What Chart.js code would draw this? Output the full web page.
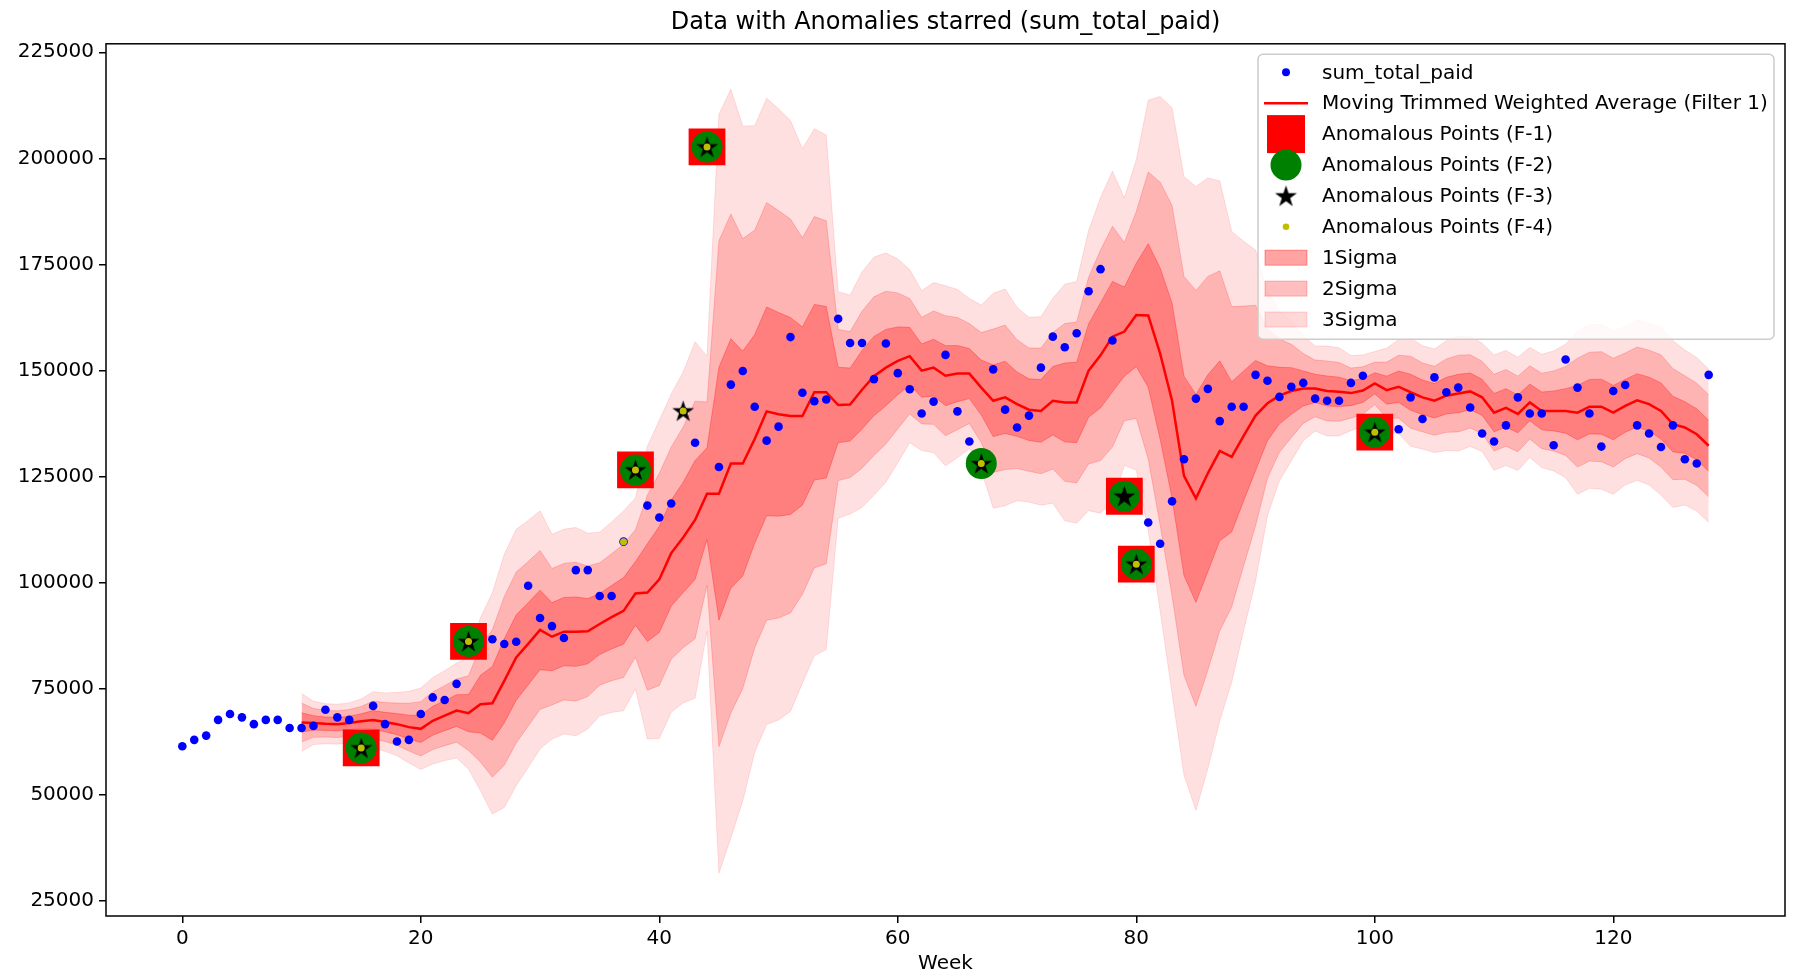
<!DOCTYPE html>
<html>
<head>
<meta charset="utf-8">
<script src="https://cdn.jsdelivr.net/npm/chart.js@4.4.1/dist/chart.umd.min.js"></script>
<style>
  html, body { margin: 0; padding: 0; background: #ffffff; }
  #wrap { width: 1794px; height: 976px; }
</style>
</head>
<body>
<div id="wrap"><canvas id="anomalyChart" width="1794" height="976"></canvas></div>
<script>
// weekly sum_total_paid, week 0 .. 128
const sumTotalPaid = [
  61500, 63000, 64000, 67700, 69100, 68300, 66700, 67700, 67700, 65800,
  65800, 66300, 70100, 68300, 67700, 61100, 71000, 66700, 62600, 63000,
  69100, 73000, 72400, 76200, 86200, 86400, 86700, 85600, 86100, 99300,
  91700, 89800, 87000, 103000, 103000, 96900, 96900, 109700, 126600, 118200,
  115400, 118700, 140500, 133000, 202700, 127300, 146700, 149900, 141500, 133500,
  136800, 157900, 144800, 142800, 143200, 162200, 156500, 156500, 148000, 156400,
  149400, 145600, 139900, 142700, 153700, 140400, 133300, 128100, 150300, 140800,
  136600, 139400, 150700, 158000, 155500, 158800, 168700, 173900, 157100, 120400,
  104400, 114200, 109200, 119200, 129100, 143400, 145700, 138100, 141500, 141500,
  149000, 147600, 143800, 146200, 147100, 143400, 142900, 142900, 147100, 148800,
  135500, 137000, 136200, 143700, 138600, 148400, 144900, 146000, 141300, 135200,
  133300, 137100, 143700, 139900, 139900, 132400, 152600, 146000, 139900, 132100,
  145200, 146600, 137100, 135200, 132000, 137100, 129100, 128100, 149000
];

// moving trimmed weighted average + its sigma, week 10 .. 128
const trendStart = 10;
const movingAvg = [
  67100, 67000, 66800, 66700, 67000, 67400, 67700, 67200, 66700, 66000,
  65600, 67500, 68700, 69900, 69300, 71400, 71600, 76900, 82400, 85600,
  88900, 87300, 88500, 88500, 88600, 90300, 91900, 93400, 97500, 97700,
  100800, 107000, 110700, 114800, 121000, 121000, 128100, 128100, 133900, 140400,
  139700, 139300, 139300, 144900, 144900, 141900, 142000, 145500, 148700, 150700,
  152300, 153400, 150000, 150700, 148800, 149300, 149300, 146000, 142900, 143700,
  142100, 140800, 140500, 142900, 142500, 142500, 150000, 153600, 158000, 159200,
  163100, 163000, 154000, 142900, 125200, 119900, 125800, 131100, 129700, 134600,
  139400, 142300, 144100, 145200, 145800, 145800, 145200, 145000, 144700, 145300,
  147000, 145400, 146200, 144900, 143700, 142900, 144100, 144600, 145100, 143700,
  140100, 141200, 139800, 142500, 140500, 140500, 140500, 140100, 141500, 141500,
  140100, 141700, 143000, 142100, 140500, 137400, 136600, 135000, 132300
];
const sigma = [
  2280, 1700, 1570, 1570, 1570, 1740, 2220, 2290, 2490, 2810,
  3200, 3400, 3530, 3730, 4390, 6800, 8690, 9940, 10070, 9700,
  9360, 8040, 8040, 8180, 7690, 7210, 7480, 7850, 7500, 11500,
  12500, 12500, 13000, 14000, 10800, 29800, 29400, 26500, 24600, 24600,
  24000, 23200, 21000, 20700, 20200, 8900, 8600, 9250, 9350, 9000,
  8000, 6800, 6280, 6680, 7070, 6610, 5890, 6480, 8440, 8510,
  7590, 7260, 7400, 8050, 9290, 9490, 11000, 12400, 13000, 10500,
  12200, 16900, 20200, 23000, 23500, 24500, 23200, 21200, 17700, 15300,
  13000, 8840, 6680, 5500, 4120, 3340, 3530, 3460, 2950, 2800,
  2500, 3300, 3700, 4250, 4060, 4060, 4320, 4520, 4320, 4250,
  4520, 4520, 4450, 4320, 4450, 4710, 5240, 6410, 6410, 6480,
  6410, 6220, 6280, 6350, 6610, 6550, 6090, 6020, 6020
];

// weeks flagged by each filter
const anomF1 = [15, 24, 38, 44, 79, 80, 100];
const anomF2 = [15, 24, 38, 44, 67, 79, 80, 100];
const anomF3 = [15, 24, 38, 42, 44, 67, 79, 80, 100];
const anomF4 = [15, 24, 37, 38, 42, 44, 67, 80, 100];

const xTicks = [0, 20, 40, 60, 80, 100, 120];
const yTicks = [25000, 50000, 75000, 100000, 125000, 150000, 175000, 200000, 225000];

const chartTitle = 'Data with Anomalies starred (sum_total_paid)';
const bandAlpha = { 1: 0.3, 2: 0.2, 3: 0.12 };
const patchAlpha = { 1: 0.36, 2: 0.25, 3: 0.15 };
const FONT = "'DejaVu Sans', 'Liberation Sans', sans-serif";

Chart.defaults.font.family = FONT;
Chart.defaults.color = '#000';

function makeStar(outer, fill) {
  const size = Math.ceil(outer * 2 + 4);
  const c = document.createElement('canvas');
  c.width = size; c.height = size;
  const g = c.getContext('2d');
  g.translate(size / 2, size / 2 + outer * 0.08);
  g.beginPath();
  for (let i = 0; i < 10; i++) {
    const r = i % 2 === 0 ? outer : outer * 0.382;
    const a = -Math.PI / 2 + i * Math.PI / 5;
    g.lineTo(r * Math.cos(a), r * Math.sin(a));
  }
  g.closePath();
  g.fillStyle = fill;
  g.fill();
  return c;
}
const starImg = makeStar(11.5, '#000000');

const paidPoints = sumTotalPaid.map((v, i) => ({ x: i, y: v }));
const trendPoints = movingAvg.map((v, i) => ({ x: trendStart + i, y: v }));
const pick = (list) => list.map(w => ({ x: w, y: sumTotalPaid[w] }));

function band(k, side) {
  return movingAvg.map((m, i) => ({ x: trendStart + i, y: m + side * k * sigma[i] }));
}

function bandSets(k) {
  const col = `rgba(255,0,0,${bandAlpha[k]})`;
  return [
    { label: k + 'Sigma', data: band(k, 1), fill: '+1', backgroundColor: col, borderColor: col,
      borderWidth: 1, pointRadius: 0, tension: 0, order: 10 * k },
    { label: k + 'Sigma low', data: band(k, -1), fill: false, borderColor: col,
      borderWidth: 1, pointRadius: 0, tension: 0, order: 10 * k }
  ];
}

// frame round the plot + title centred over the axes (like matplotlib)
const framePlugin = {
  id: 'frame',
  afterDatasetsDraw(chart) {
    const { ctx, chartArea: a } = chart;
    ctx.save();
    ctx.strokeStyle = '#000';
    ctx.lineWidth = 1.5;
    ctx.strokeRect(a.left, a.top, a.right - a.left, a.bottom - a.top);
    ctx.font = '24px ' + FONT;
    ctx.fillStyle = '#000';
    ctx.textAlign = 'center';
    ctx.textBaseline = 'middle';
    ctx.fillText(chartTitle, (a.left + a.right) / 2, 22.5);
    ctx.restore();
  }
};

const legendItems = [
  { label: 'sum_total_paid', kind: 'dot' },
  { label: 'Moving Trimmed Weighted Average (Filter 1)', kind: 'line' },
  { label: 'Anomalous Points (F-1)', kind: 'square' },
  { label: 'Anomalous Points (F-2)', kind: 'circle' },
  { label: 'Anomalous Points (F-3)', kind: 'star' },
  { label: 'Anomalous Points (F-4)', kind: 'ydot' },
  { label: '1Sigma', kind: 'patch', k: 1 },
  { label: '2Sigma', kind: 'patch', k: 2 },
  { label: '3Sigma', kind: 'patch', k: 3 }
];

const legendPlugin = {
  id: 'boxLegend',
  afterDraw(chart) {
    const { ctx, chartArea: a } = chart;
    const w = 516, h = 285;
    const x0 = a.right - 11 - w, y0 = a.top + 10.5;
    ctx.save();
    ctx.beginPath();
    ctx.roundRect(x0, y0, w, h, 5);
    ctx.fillStyle = 'rgba(255,255,255,0.8)';
    ctx.fill();
    ctx.strokeStyle = '#cccccc';
    ctx.lineWidth = 1.5;
    ctx.stroke();

    const mx = x0 + 28, tx = x0 + 64;
    ctx.font = '20px ' + FONT;
    ctx.textBaseline = 'middle';
    legendItems.forEach((it, i) => {
      const y = y0 + 18 + i * 30.9;
      ctx.save();
      if (it.kind === 'dot' || it.kind === 'ydot') {
        ctx.beginPath();
        ctx.arc(mx, y, it.kind === 'dot' ? 4 : 3.3, 0, Math.PI * 2);
        ctx.fillStyle = it.kind === 'dot' ? '#0000ff' : '#bfbf00';
        ctx.fill();
      } else if (it.kind === 'line') {
        ctx.beginPath();
        ctx.moveTo(mx - 22, y); ctx.lineTo(mx + 22, y);
        ctx.strokeStyle = '#ff0000'; ctx.lineWidth = 2.5;
        ctx.stroke();
      } else if (it.kind === 'square') {
        ctx.fillStyle = '#ff0000';
        ctx.fillRect(mx - 19, y - 19, 38, 38);
      } else if (it.kind === 'circle') {
        ctx.beginPath();
        ctx.arc(mx, y, 15.5, 0, Math.PI * 2);
        ctx.fillStyle = '#008000';
        ctx.fill();
      } else if (it.kind === 'star') {
        ctx.drawImage(starImg, mx - starImg.width / 2, y - starImg.height / 2);
      } else if (it.kind === 'patch') {
        const col = `rgba(255,0,0,${patchAlpha[it.k]})`;
        ctx.fillStyle = col; ctx.strokeStyle = col; ctx.lineWidth = 1;
        ctx.fillRect(mx - 21, y - 7.5, 42, 15);
        ctx.strokeRect(mx - 21, y - 7.5, 42, 15);
      }
      ctx.restore();
      ctx.fillStyle = '#000';
      ctx.fillText(it.label, tx, y + 1);
    });
    ctx.restore();
  }
};

const gridOpts = {
  display: true,
  drawOnChartArea: false,
  drawTicks: true,
  tickLength: 7,
  color: '#000',
  lineWidth: 1.5
};

new Chart(document.getElementById('anomalyChart'), {
  type: 'line',
  data: {
    datasets: [
      { label: 'Anomalous Points (F-4)', data: pick(anomF4), showLine: false, pointStyle: 'circle',
        pointRadius: 3.5, pointBackgroundColor: '#bfbf00', pointBorderWidth: 0, order: 0 },
      { label: 'Anomalous Points (F-3)', data: pick(anomF3), showLine: false, pointStyle: starImg,
        pointRadius: 10, order: 1 },
      { label: 'Anomalous Points (F-2)', data: pick(anomF2), showLine: false, pointStyle: 'circle',
        pointRadius: 15.5, pointBackgroundColor: '#008000', pointBorderWidth: 0, order: 2 },
      { label: 'Anomalous Points (F-1)', data: pick(anomF1), showLine: false, pointStyle: 'rect',
        pointRadius: 26, pointBackgroundColor: '#ff0000', pointBorderWidth: 0, order: 3 },
      { label: 'sum_total_paid', data: paidPoints, showLine: false, pointStyle: 'circle',
        pointRadius: 4.3, pointBackgroundColor: '#0000ff', pointBorderWidth: 0, order: 4 },
      { label: 'Moving Trimmed Weighted Average (Filter 1)', data: trendPoints, borderColor: '#ff0000',
        borderWidth: 2.5, pointRadius: 0, tension: 0, fill: false, order: 5 },
      ...bandSets(1),
      ...bandSets(2),
      ...bandSets(3)
    ]
  },
  options: {
    responsive: false,
    devicePixelRatio: 1,
    animation: false,
    events: [],
    layout: { autoPadding: false, padding: { top: 43.8, right: 9, bottom: 0, left: 0 } },
    scales: {
      x: {
        type: 'linear',
        min: -6.4,
        max: 134.4,
        afterBuildTicks: (s) => { s.ticks = xTicks.map(v => ({ value: v })); },
        afterFit: (s) => { s.height = 60; s.paddingLeft = 0; s.paddingRight = 0; },
        grid: gridOpts,
        border: { display: false },
        ticks: { font: { size: 20 }, color: '#000', padding: 4, maxRotation: 0, autoSkip: false },
        title: { display: true, text: 'Week', font: { size: 20 }, color: '#000', padding: { top: 0, bottom: 0 } }
      },
      y: {
        type: 'linear',
        min: 21500,
        max: 227000,
        afterBuildTicks: (s) => { s.ticks = yTicks.map(v => ({ value: v })); },
        afterFit: (s) => { s.width = 106; s.paddingTop = 0; s.paddingBottom = 0; },
        grid: gridOpts,
        border: { display: false },
        ticks: { font: { size: 20 }, color: '#000', padding: 5, autoSkip: false,
                 callback: (v) => String(v) }
      }
    },
    plugins: {
      legend: { display: false },
      tooltip: { enabled: false },
      title: { display: false },
      filler: { propagate: false }
    }
  },
  plugins: [framePlugin, legendPlugin]
});
</script>
</body>
</html>
